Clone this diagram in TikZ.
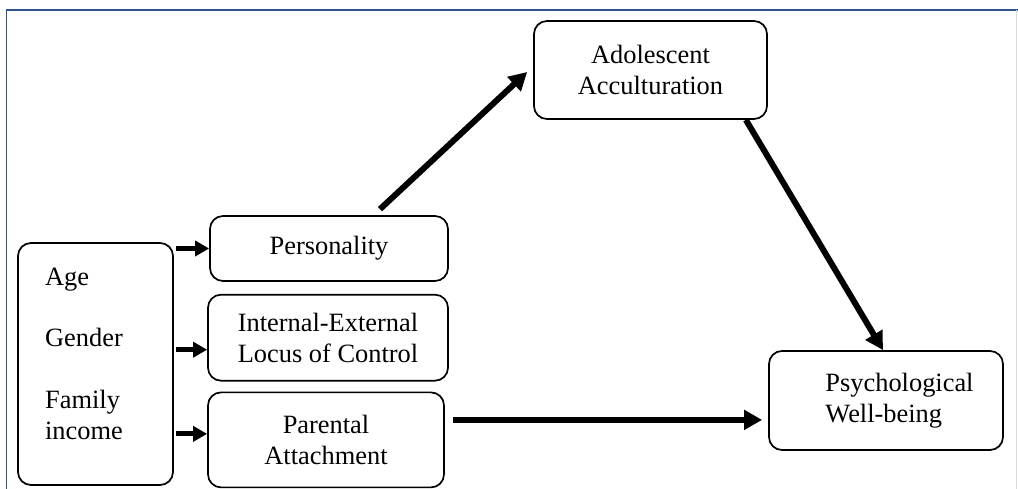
\documentclass[tikz,border=0pt]{standalone}
\usepackage{fontspec}
\setmainfont{Liberation Serif}
\usetikzlibrary{positioning,arrows.meta}

\begin{document}
\begin{tikzpicture}[x=1pt,y=1pt]
        % Styles
        \tikzset{
          box/.style = {draw=black, rounded corners=13pt, line width=1.7pt, align=center,
            font=\fontsize{26.4}{31}\selectfont, inner sep=0pt},
          bigarrow/.style = {line width=6pt, -{Triangle[length=18pt,width=19pt]}},
          smallarrow/.style = {line width=5pt, -{Triangle[length=14pt,width=15pt]}}
        }
        \useasboundingbox (0,0) rectangle (1018,489);

        % Frame
        \draw[line width=1.6pt, draw={rgb,255:red,47;green,84;blue,140}]
          (6.5,0) -- (6.5,479) -- (1018,479);
        \draw[line width=1pt, draw=black!15] (1016.5,0) -- (1016.5,479);

        % Nodes
        \node (acc)  [box, minimum width=233pt, minimum height=98pt] at (650.5,419)
              {Adolescent\\Acculturation};
        \node (pwb)  [box, minimum width=234pt, minimum height=99pt, align=left] at (886,88.5)
              {\hspace*{27pt}Psychological\\\hspace*{27pt}Well-being};
        \node (pers) [box, minimum width=238pt, minimum height=65pt] at (329,240.5)
              {Personality};
        \node (loc)  [box, minimum width=240pt, minimum height=86pt, below=12pt of pers.south,
              anchor=north, xshift=-1pt] {Internal-External\\Locus of Control};
        \node (par)  [box, minimum width=236pt, minimum height=95pt, below=10pt of loc.south,
              anchor=north, xshift=-2pt] {Parental\\Attachment};
        \node (demo) [box, minimum width=155pt, minimum height=242pt, align=left] at (95.5,125)
              {\hspace*{-23pt}Age\\[30pt]\hspace*{-23pt}Gender\\[31pt]\hspace*{-23pt}Family\\
               \hspace*{-23pt}income\rule[-21pt]{0pt}{0pt}};

        % Edges
        \draw[bigarrow] ([xshift=51pt,yshift=6pt]pers.north) -- ([xshift=-6pt,yshift=-2pt]acc.west);
        \draw[bigarrow] ([xshift=-22pt]acc.south east) -- ([xshift=-3pt]pwb.north);
        \coordinate (pa) at ([xshift=8pt,yshift=20pt]par.east);
        \draw[bigarrow] (pa) -- ([xshift=-6pt]pwb.west |- pa);

        \draw[smallarrow] ([xshift=2pt]demo.east |- pers.west) -- (pers.west);
        \draw[smallarrow] ([xshift=2pt,yshift=-12pt]demo.east |- loc.west) -- ([yshift=-12pt]loc.west);
        \draw[smallarrow] ([xshift=2pt,yshift=6pt]demo.east |- par.west) -- ([yshift=6pt]par.west);

    \end{tikzpicture}
\end{document}
